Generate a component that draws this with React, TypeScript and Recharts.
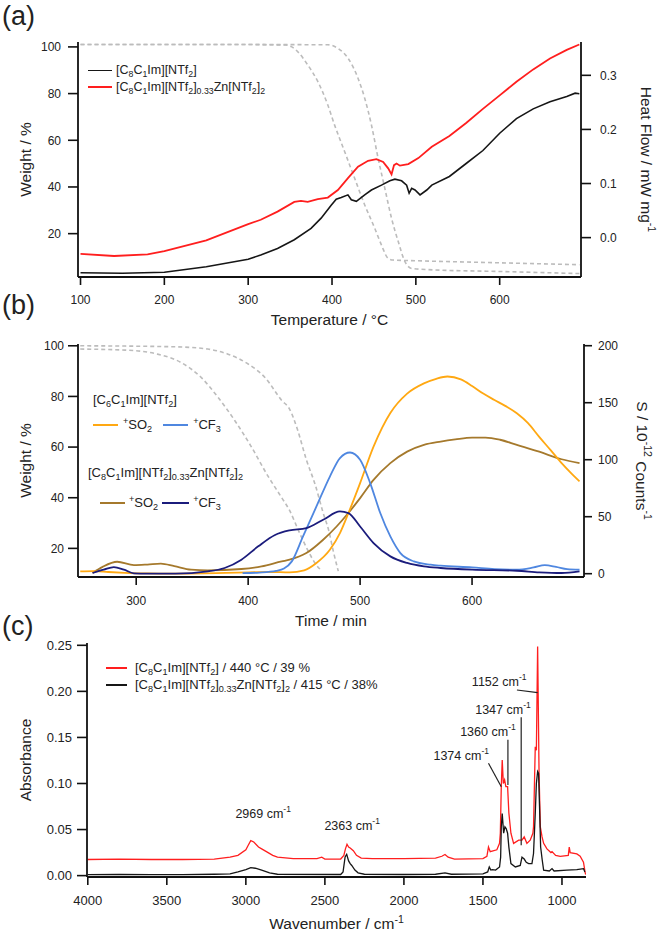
import React from 'react';
import { LineChart, Line, XAxis, YAxis, Label, ReferenceLine, ReferenceDot } from 'recharts';

const FONT = '"Liberation Sans", Arial, Helvetica, sans-serif';
type P = [number, number];
const pts = (a: P[]) => a.map(([x, y]) => ({ x, y }));

// ---------- Panel (a): temperature vs heat flow / weight ----------
const tempTicks = [100, 200, 300, 400, 500, 600];
const weightTicksA = [20, 40, 60, 80, 100];
const heatTicks = [0, 0.1, 0.2, 0.3];
const heatC8: P[] = [
  [100, -0.065], [150, -0.066], [200, -0.064], [250, -0.054], [300, -0.04], [315, -0.032], [335, -0.02],
  [355, -0.004], [375, 0.017], [387, 0.036], [399, 0.06], [405, 0.071], [411, 0.074], [419, 0.079],
  [423, 0.07], [429, 0.067], [439, 0.079], [447, 0.088], [459, 0.097], [469, 0.105], [475, 0.108],
  [483, 0.105], [489, 0.097], [492, 0.082], [495, 0.091], [499, 0.088], [505, 0.079], [513, 0.088],
  [519, 0.097], [540, 0.113], [560, 0.137], [580, 0.161], [600, 0.193], [620, 0.22], [640, 0.238],
  [660, 0.251], [680, 0.261], [690, 0.267], [695, 0.266],
];
const heatC8Zn: P[] = [
  [100, -0.03], [140, -0.034], [180, -0.031], [200, -0.025], [250, -0.005], [300, 0.025], [315, 0.033],
  [335, 0.048], [355, 0.066], [363, 0.068], [371, 0.066], [383, 0.071], [395, 0.074], [407, 0.088],
  [419, 0.11], [431, 0.131], [443, 0.142], [453, 0.145], [461, 0.14], [467, 0.128], [471, 0.117],
  [474, 0.134], [477, 0.137], [481, 0.133], [491, 0.136], [503, 0.147], [519, 0.168], [540, 0.188],
  [560, 0.212], [580, 0.238], [600, 0.263], [620, 0.288], [640, 0.311], [660, 0.331], [680, 0.347],
  [695, 0.357],
];
const weightA1: P[] = [
  [100, 101], [200, 101], [300, 101], [345, 100.8], [352, 100], [359, 98], [371, 92.3], [383, 85.2],
  [395, 75.1], [403, 66.6], [415, 55.2], [427, 43.7], [439, 32.3], [451, 22.3], [459, 15.1], [467, 9.4],
  [473, 8.7], [500, 8.4], [600, 7.5], [695, 6.7],
];
const weightA2: P[] = [
  [100, 101], [300, 101], [395, 100.9], [407, 99.4], [419, 95.2], [431, 86.6], [439, 78], [447, 66.6],
  [455, 52.3], [463, 39.4], [471, 26.6], [479, 16.6], [487, 8], [495, 5.1], [520, 4.5], [600, 3.8],
  [695, 2.9],
];

// ---------- Panel (b): time vs MS signal / weight ----------
const timeTicks = [300, 400, 500, 600];
const weightTicksB = [20, 40, 60, 80, 100];
const signalTicks = [0, 50, 100, 150, 200];
const so2C6: P[] = [
  [250, 2], [262, 2.2], [275, 1.5], [290, 0.8], [310, 0.2], [330, 0], [360, 0.3], [380, 0.8], [400, 1.2],
  [420, 1.5], [437, 1.2], [450, 3], [461, 9.4], [473, 21], [482, 35.6], [489.5, 53], [500, 79.5],
  [512, 111.5], [527, 141], [542, 158], [557, 167], [568, 171], [578, 173], [590, 170.5], [600, 164.7],
  [610, 158], [620, 152.4], [630, 147], [640, 140.7], [650, 132], [660, 120], [670, 108.6], [680, 97],
  [690, 86.7], [696, 81],
];
const cf3C6: P[] = [
  [395, 0.5], [410, 1], [425, 2.5], [432, 4.5], [439, 10.8], [449, 32.7], [461, 59], [473, 85.2],
  [482, 101.4], [491, 106.3], [500, 99.9], [509, 79.5], [518, 53.2], [527, 32.7], [536, 18.1],
  [548, 10.8], [563, 7.9], [572, 7], [600, 5.5], [620, 4], [640, 3.5], [655, 5.5], [665, 7.5], [675, 6],
  [685, 4], [696, 3.5],
];
const so2Zn: P[] = [
  [261, 0.6], [270, 6], [283, 10.5], [298, 7.5], [310, 8], [322, 8.8], [334, 6.6], [349, 3.5], [364, 2.9],
  [394, 4.1], [412, 6.4], [430, 10.8], [437, 12.3], [452, 18.1], [467, 29.8], [479, 41.4], [489.5, 53.2],
  [500, 66.3], [512, 82.3], [527, 97], [542, 107.1], [557, 113], [572, 115.9], [585, 117.8], [600, 119.4],
  [612, 119.4], [625, 117.5], [640, 113], [660, 107], [680, 100.4], [696, 97],
];
const cf3Zn: P[] = [
  [261, 0.6], [271, 3.5], [280, 5.8], [289, 3.5], [298, 0.3], [310, 0], [335, 0], [364, 2], [379, 5],
  [394, 12.3], [409, 24], [424, 34], [437, 38], [452, 40], [467, 47.3], [482, 54.6], [489.5, 53.2],
  [500, 41.4], [512, 26.9], [527, 15.2], [542, 9.4], [557, 6.4], [572, 5], [600, 3.5], [640, 2.6],
  [660, 1.2], [680, 0.6], [696, 2],
];
const weightB1: P[] = [
  [250, 98.7], [290, 98.3], [319, 96.7], [340, 93.4], [358, 87.5], [373, 79.7], [388, 70.5], [403, 60],
  [418, 48.3], [430, 40], [437, 35], [445, 27], [453, 19.5], [460, 14], [466, 11],
];
const weightB2: P[] = [
  [250, 100], [334, 99.6], [364, 98.7], [382, 96.7], [400, 92.8], [415, 87.5], [430, 78.4], [437, 75],
  [444, 67], [452, 55], [460, 45], [467, 34], [472, 27], [476, 19], [480.5, 11],
];

// ---------- Panel (c): IR spectra ----------
const wnTicks = [4000, 3500, 3000, 2500, 2000, 1500, 1000];
const absTicks = [0, 0.05, 0.1, 0.15, 0.2, 0.25];
const irC8: P[] = [
  [4000, 0.0175], [3800, 0.018], [3600, 0.0175], [3400, 0.0175], [3200, 0.018], [3100, 0.02], [3050, 0.022],
  [3000, 0.028], [2985, 0.033], [2969, 0.038], [2950, 0.0365], [2920, 0.031], [2900, 0.029], [2870, 0.026],
  [2830, 0.022], [2800, 0.02], [2700, 0.0185], [2550, 0.0185], [2520, 0.02], [2500, 0.018], [2400, 0.018],
  [2380, 0.022], [2370, 0.029], [2360, 0.034], [2350, 0.031], [2340, 0.03], [2320, 0.027], [2300, 0.022],
  [2270, 0.019], [2200, 0.0185], [2000, 0.0185], [1800, 0.019], [1760, 0.021], [1740, 0.023], [1720, 0.02],
  [1680, 0.018], [1500, 0.0185], [1475, 0.021], [1465, 0.031], [1454, 0.026], [1412, 0.028], [1395, 0.035],
  [1390, 0.046], [1384, 0.0965], [1378, 0.1256], [1371, 0.1], [1363, 0.104], [1355, 0.0965], [1344, 0.0965],
  [1336, 0.068], [1323, 0.046], [1306, 0.035], [1274, 0.0385], [1253, 0.0385], [1239, 0.042], [1222, 0.035],
  [1201, 0.0385], [1184, 0.046], [1180, 0.053], [1169, 0.14], [1162, 0.136], [1154, 0.2486], [1145, 0.111],
  [1137, 0.053], [1126, 0.042], [1116, 0.035], [1095, 0.029], [1070, 0.025], [1063, 0.026], [1040, 0.022],
  [1011, 0.021], [960, 0.022], [954, 0.031], [948, 0.025], [906, 0.0235], [885, 0.021], [864, 0.0145],
  [854, 0.004], [850, 0.001],
];
const irC8Zn: P[] = [
  [4000, 0.001], [3800, 0.0012], [3600, 0.001], [3400, 0.001], [3200, 0.0015], [3100, 0.002], [3050, 0.004],
  [3000, 0.0065], [2969, 0.0087], [2940, 0.008], [2900, 0.006], [2850, 0.003], [2800, 0.0015], [2400, 0.0012],
  [2385, 0.004], [2372, 0.0203], [2362, 0.023], [2350, 0.016], [2340, 0.013], [2330, 0.011], [2310, 0.006],
  [2290, 0.003], [2250, 0.0015], [2000, 0.0012], [1800, 0.0015], [1740, 0.003], [1700, 0.0015], [1500, 0.002],
  [1470, 0.004], [1460, 0.0094], [1450, 0.006], [1440, 0.0065], [1420, 0.006], [1395, 0.0094], [1388, 0.02],
  [1384, 0.053], [1378, 0.0675], [1369, 0.046], [1361, 0.053], [1353, 0.051], [1344, 0.046], [1336, 0.031],
  [1323, 0.013], [1295, 0.0094], [1264, 0.011], [1253, 0.02], [1239, 0.018], [1226, 0.0145], [1211, 0.013],
  [1190, 0.013], [1180, 0.024], [1169, 0.0675], [1162, 0.1], [1154, 0.113], [1148, 0.111], [1142, 0.075],
  [1135, 0.031], [1125, 0.017], [1116, 0.006], [1080, 0.005], [1063, 0.0076], [1050, 0.005], [969, 0.006],
  [906, 0.0065], [864, 0.0076], [855, 0.004],
];
// peak labels: text, wavenumber, absorbance at the text baseline start
const peakNames = ['2969', '2363', '1374', '1360', '1347', '1152'];
const peakTextWn = [3066, 2503, 1813, 1644, 1549, 1570];
const peakTextAbs = [0.062, 0.0493, 0.1256, 0.151, 0.1757, 0.206];
const leaderFrom: P[] = [[1465, 0.122], [1342, 0.1474], [1258, 0.172], [1285, 0.2015]];
const leaderTo: P[] = [[1384, 0.0965], [1342, 0.0984], [1258, 0.033], [1154, 0.1986]];

// ---------- styles ----------
const C = {
  black: '#161616', red: '#ff1e1e', grey: '#bcbcbc', orange: '#ffa812', blue: '#4f87e0',
  brown: '#a5792c', navy: '#1b1c7c',
};
const tick = { fontSize: 12, fill: '#222', fontFamily: FONT };
const tickC = { fontSize: 13, fill: '#222', fontFamily: FONT };
const axisLine = { stroke: '#111', strokeWidth: 1.8 };
const tickLine = { stroke: '#111', strokeWidth: 1.6 };

const xTitle = (content: React.ReactNode, dy: number) => (props: any) => {
  const vb = props.viewBox || {};
  return (
    <text x={vb.x + vb.width / 2} y={vb.y + dy} textAnchor="middle" fontSize={15.5} fontFamily={FONT} fill="#222">
      {content}
    </text>
  );
};
const yTitle = (content: React.ReactNode, dx: number, rot: number) => (props: any) => {
  const vb = props.viewBox || {};
  const cx = vb.x + dx;
  const cy = vb.y + vb.height / 2;
  return (
    <text x={cx} y={cy} textAnchor="middle" dominantBaseline="central" fontSize={15.5} fontFamily={FONT} fill="#222"
      transform={`rotate(${rot}, ${cx}, ${cy})`}>
      {content}
    </text>
  );
};

const peakLabel = (name: string) => (props: any) => {
  const vb = props.viewBox || {};
  return (
    <text x={vb.x} y={vb.y} fontSize={12.5} fontFamily={FONT} fill="#222">
      {name} cm<tspan dy={-6} fontSize={8.5}>-1</tspan>
    </text>
  );
};

// ---------- HTML legends ----------
const sub = (t: string) => <sub style={{ fontSize: '0.7em', verticalAlign: '-0.35em', lineHeight: 0 }}>{t}</sub>;
const supH = (t: string) => <sup style={{ fontSize: '0.7em', verticalAlign: '0.55em', lineHeight: 0 }}>{t}</sup>;
const C8 = () => <span>[C{sub('8')}C{sub('1')}Im][NTf{sub('2')}]</span>;
const C6 = () => <span>[C{sub('6')}C{sub('1')}Im][NTf{sub('2')}]</span>;
const C8Zn = () => <span>[C{sub('8')}C{sub('1')}Im][NTf{sub('2')}]{sub('0.33')}Zn[NTf{sub('2')}]{sub('2')}</span>;

const Row = ({ top, left, size, children }: any) => (
  <div style={{ position: 'absolute', top: top - size * 0.6, left, height: size * 1.2, display: 'flex', alignItems: 'center',
    fontFamily: FONT, fontSize: size, color: '#222', lineHeight: 1, whiteSpace: 'nowrap' }}>{children}</div>
);
const Sw = ({ color, w, gap, h = 2 }: any) => (
  <span style={{ display: 'inline-block', width: w, height: 0, borderTop: `${h}px solid ${color}`, marginRight: gap }} />
);

const PanelLabel = ({ top, text }: any) => (
  <div style={{ position: 'absolute', left: 2, top, fontFamily: FONT, fontSize: 27, color: '#222', lineHeight: 1 }}>{text}</div>
);

const dashed = { stroke: C.grey, strokeWidth: 1.6, strokeDasharray: '4 3' };

export default function App() {
  return (
    <div style={{ position: 'absolute', left: 0, top: 0, width: 662, height: 935, background: '#fff', overflow: 'hidden' }}>
      {/* Panel (a) */}
      <div style={{ position: 'absolute', left: 0, top: 0, width: 662, height: 330 }}>
        <LineChart width={662} height={330} margin={{ top: 42, right: 21, bottom: 13, left: 28 }}>
          <XAxis type="number" dataKey="x" domain={[97, 697]} ticks={tempTicks} interval={0} allowDataOverflow
            height={40} tickSize={8} tickMargin={10} tick={tick} axisLine={axisLine} tickLine={tickLine}>
            <Label content={xTitle('Temperature / °C', 47.5)} />
          </XAxis>
          <XAxis xAxisId="top" orientation="top" type="number" dataKey="x" domain={[97, 697]} allowDataOverflow
            height={0} tick={false} tickLine={false} axisLine={axisLine} />
          <YAxis yAxisId="L" type="number" domain={[1.43, 102.1]} ticks={weightTicksA} interval={0} allowDataOverflow
            width={50} tickSize={10} tickMargin={7} tick={tick} axisLine={axisLine} tickLine={tickLine}>
            <Label content={yTitle('Weight / %', -3, -90)} />
          </YAxis>
          <YAxis yAxisId="R" orientation="right" type="number" domain={[-0.0728, 0.3616]} ticks={heatTicks} interval={0}
            allowDataOverflow width={60} tickSize={10} tickMargin={9} tick={tick} axisLine={axisLine} tickLine={tickLine}
            tickFormatter={(v: number) => v.toFixed(1)}>
            <Label content={yTitle(<>Heat Flow / mW mg<tspan dy={-6} fontSize="0.68em">-1</tspan></>, 65, 90)} />
          </YAxis>
          <Line yAxisId="L" data={pts(weightA1)} dataKey="y" type="monotone" {...dashed} dot={false} activeDot={false} isAnimationActive={false} />
          <Line yAxisId="L" data={pts(weightA2)} dataKey="y" type="monotone" {...dashed} dot={false} activeDot={false} isAnimationActive={false} />
          <Line yAxisId="R" data={pts(heatC8)} dataKey="y" type="linear" stroke={C.black} strokeWidth={1.6} dot={false} activeDot={false} isAnimationActive={false} />
          <Line yAxisId="R" data={pts(heatC8Zn)} dataKey="y" type="linear" stroke={C.red} strokeWidth={1.8} dot={false} activeDot={false} isAnimationActive={false} />
        </LineChart>
        <Row top={70} left={88} size={12.5}><Sw color={C.black} w={24} gap={4} h={1.5} /><C8 /></Row>
        <Row top={87} left={88} size={12.5}><Sw color={C.red} w={24} gap={4} h={2.5} /><C8Zn /></Row>
      </div>
      <PanelLabel top={3} text="(a)" />

      {/* Panel (b) */}
      <div style={{ position: 'absolute', left: 0, top: 300, width: 662, height: 335 }}>
        <LineChart width={662} height={335} margin={{ top: 44, right: 18, bottom: 18, left: 28 }}>
          <XAxis type="number" dataKey="x" domain={[248, 700]} ticks={timeTicks} interval={0} allowDataOverflow
            height={40} tickSize={8} tickMargin={11} tick={tick} axisLine={axisLine} tickLine={tickLine}>
            <Label content={xTitle('Time / min', 48.5)} />
          </XAxis>
          <XAxis xAxisId="top" orientation="top" type="number" dataKey="x" domain={[248, 700]} allowDataOverflow
            height={0} tick={false} tickLine={false} axisLine={axisLine} />
          <YAxis yAxisId="L" type="number" domain={[8.7, 100.7]} ticks={weightTicksB} interval={0} allowDataOverflow
            width={50} tickSize={10} tickMargin={4} tick={tick} axisLine={axisLine} tickLine={tickLine}>
            <Label content={yTitle('Weight / %', -3, -90)} />
          </YAxis>
          <YAxis yAxisId="R" orientation="right" type="number" domain={[-2.9, 201.5]} ticks={signalTicks} interval={0}
            allowDataOverflow width={60} tickSize={8} tickMargin={6} tick={tick} axisLine={axisLine} tickLine={tickLine}>
            <Label content={yTitle(<>S / 10<tspan dy={-6} fontSize="0.68em">-12</tspan><tspan dy={6}> Counts</tspan><tspan dy={-6} fontSize="0.68em">-1</tspan></>, 58, 90)} />
          </YAxis>
          <Line yAxisId="L" data={pts(weightB1)} dataKey="y" type="monotone" {...dashed} dot={false} activeDot={false} isAnimationActive={false} />
          <Line yAxisId="L" data={pts(weightB2)} dataKey="y" type="monotone" {...dashed} dot={false} activeDot={false} isAnimationActive={false} />
          <Line yAxisId="R" data={pts(so2Zn)} dataKey="y" type="monotone" stroke={C.brown} strokeWidth={1.8} dot={false} activeDot={false} isAnimationActive={false} />
          <Line yAxisId="R" data={pts(so2C6)} dataKey="y" type="monotone" stroke={C.orange} strokeWidth={1.8} dot={false} activeDot={false} isAnimationActive={false} />
          <Line yAxisId="R" data={pts(cf3C6)} dataKey="y" type="monotone" stroke={C.blue} strokeWidth={1.8} dot={false} activeDot={false} isAnimationActive={false} />
          <Line yAxisId="R" data={pts(cf3Zn)} dataKey="y" type="monotone" stroke={C.navy} strokeWidth={1.8} dot={false} activeDot={false} isAnimationActive={false} />
        </LineChart>
        <Row top={100} left={93} size={13}><C6 /></Row>
        <Row top={125} left={93} size={13}>
          <Sw color={C.orange} w={25} gap={5} /><span>{supH('+')}SO{sub('2')}</span>
          <span style={{ width: 11 }} /><Sw color={C.blue} w={25} gap={5} /><span>{supH('+')}CF{sub('3')}</span>
        </Row>
        <Row top={173} left={88} size={13}><C8Zn /></Row>
        <Row top={203} left={100} size={13}>
          <Sw color={C.brown} w={25} gap={4} /><span>{supH('+')}SO{sub('2')}</span>
          <span style={{ width: 4 }} /><Sw color={C.navy} w={27} gap={4} /><span>{supH('+')}CF{sub('3')}</span>
        </Row>
      </div>
      <PanelLabel top={292} text="(b)" />

      {/* Panel (c) */}
      <div style={{ position: 'absolute', left: 0, top: 600, width: 662, height: 335 }}>
        <LineChart width={662} height={335} margin={{ top: 43, right: 76, bottom: 8, left: 32 }}>
          <XAxis type="number" dataKey="x" domain={[848, 4005]} reversed ticks={wnTicks} interval={0} allowDataOverflow
            height={50} tickSize={8} tickMargin={11} tick={tickC} axisLine={axisLine} tickLine={tickLine}>
            <Label content={xTitle(<>Wavenumber / cm<tspan dy={-6} fontSize="0.68em">-1</tspan></>, 51.5)} />
          </XAxis>
          <XAxis xAxisId="top" orientation="top" type="number" dataKey="x" domain={[848, 4005]} reversed allowDataOverflow
            height={0} tick={false} tickLine={false} axisLine={axisLine} />
          <YAxis type="number" domain={[-0.0015, 0.2525]} ticks={absTicks} interval={0} allowDataOverflow
            width={55} tickSize={10} tickMargin={5} tick={tickC} axisLine={axisLine} tickLine={tickLine}
            tickFormatter={(v: number) => v.toFixed(2)}>
            <Label content={yTitle('Absorbance', -7, -90)} />
          </YAxis>
          <YAxis yAxisId="R" orientation="right" type="number" domain={[0, 1]} width={0} tick={false} tickLine={false} axisLine={axisLine} />
          <Line data={pts(irC8)} dataKey="y" type="linear" stroke={C.red} strokeWidth={1.3} dot={false} activeDot={false} isAnimationActive={false} />
          <Line data={pts(irC8Zn)} dataKey="y" type="linear" stroke={C.black} strokeWidth={1.3} dot={false} activeDot={false} isAnimationActive={false} />
          {leaderFrom.map((f, i) => (
            <ReferenceLine key={'ld' + i} segment={[{ x: f[0], y: f[1] }, { x: leaderTo[i][0], y: leaderTo[i][1] }]}
              stroke="#222" strokeWidth={1.2} ifOverflow="visible" />
          ))}
          {peakNames.map((n, i) => (
            <ReferenceDot key={'pk' + i} x={peakTextWn[i]} y={peakTextAbs[i]} r={0.01} fill="none" stroke="none"
              ifOverflow="visible" label={peakLabel(n)} />
          ))}
        </LineChart>
        <Row top={68} left={106} size={13}><Sw color={C.red} w={21} gap={8} /><span><C8 />&nbsp;/ 440 °C / 39 %</span></Row>
        <Row top={85} left={106} size={13}><Sw color={C.black} w={21} gap={8} /><span><C8Zn />&nbsp;/ 415 °C / 38%</span></Row>
      </div>
      <PanelLabel top={613} text="(c)" />
    </div>
  );
}
